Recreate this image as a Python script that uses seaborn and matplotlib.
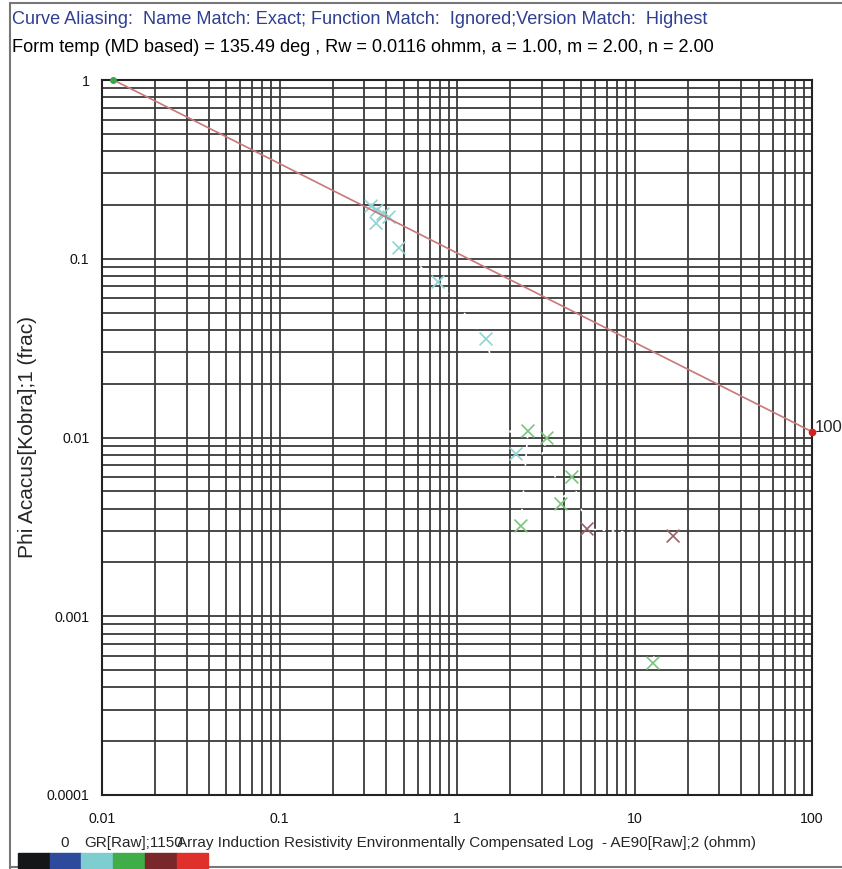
import matplotlib
matplotlib.use("Agg")
import matplotlib.pyplot as plt
import seaborn as sns
import numpy as np
import pandas as pd
from matplotlib.lines import Line2D
from matplotlib.patches import Rectangle

# ---- data ----
res_ohmm = [0.328, 0.354, 0.383, 0.350, 0.414, 0.471, 0.782, 1.457, 2.15,
            2.51, 2.29, 3.21, 3.85, 4.44, 5.40, 16.5, 12.7]
phi_frac = [0.197, 0.187, 0.178, 0.158, 0.171, 0.115, 0.0741, 0.0356, 0.00809,
            0.01087, 0.0032, 0.00993, 0.00425, 0.00601, 0.00308, 0.00281, 0.000547]
gr_class = ["cyan", "cyan", "cyan", "cyan", "cyan", "cyan", "cyan", "cyan", "cyan",
            "green", "green", "green", "green", "green", "maroon", "maroon", "green"]
rw = 0.0116
a_coef, m_exp = 1.00, 2.00
line_res = [0.0116, 100.0]
x_ticks = [0.01, 0.1, 1, 10, 100]
x_ticklabels = ["0.01", "0.1", "1", "10", "100"]
y_ticks = [0.0001, 0.001, 0.01, 0.1, 1]
y_ticklabels = ["0.0001", "0.001", "0.01", "0.1", "1"]
swatch_colors = ["#151618", "#2e4a9c", "#7ecdd0", "#3fae48", "#7a272b", "#e0302c"]

palette = {"cyan": "#8fd3d3", "green": "#7cc47c", "maroon": "#9a6068"}

df = pd.DataFrame({"res": res_ohmm, "phi": phi_frac, "gr": gr_class})

sns.set_style("white")
plt.rcParams["font.family"] = ["Liberation Sans", "DejaVu Sans"]

W, H = 842, 869
fig = plt.figure(figsize=(W / 100, H / 100), dpi=100)
ax = fig.add_axes([102 / W, 1 - 795 / H, (812 - 102) / W, (795 - 80) / H])
ax.set_xscale("log")
ax.set_yscale("log")
ax.set_xlim(0.01, 100)
ax.set_ylim(0.0001, 1)

ax.grid(True, which="both", color="#3a3a3a", linewidth=1.3)
ax.set_axisbelow(True)

# trajectory (white dotted)
ax.plot(df["res"], df["phi"], color="white", linestyle=(0, (1.5, 4)), linewidth=1.2, zorder=3)

sns.scatterplot(data=df, x="res", y="phi", hue="gr", palette=palette, marker="x",
                s=85, linewidth=1.2, legend=False, ax=ax, zorder=4)

# Archie Rw line
line_phi = [(a_coef * rw / r) ** (1 / m_exp) for r in line_res]
ax.plot(line_res, line_phi, color="#c97878", linewidth=1.2, zorder=5, clip_on=False)
ax.plot([line_res[0]], [line_phi[0]], "o", color="#3aa84a", markersize=4, zorder=6, clip_on=False)
ax.plot([line_res[1]], [line_phi[1]], "o", color="#d42020", markersize=4.5, zorder=6, clip_on=False)
ax.text(line_res[1] * 1.04, line_phi[1] * 1.06, "100%", fontsize=12, ha="left", va="center",
        clip_on=False)

ax.set_xticks(x_ticks)
ax.set_xticklabels(x_ticklabels)
ax.set_yticks(y_ticks)
ax.set_yticklabels(y_ticklabels)
ax.tick_params(which="both", length=0, labelsize=10.2, colors="#111111", pad=12)
ax.tick_params(axis="y", pad=9)
ax.minorticks_on()
ax.tick_params(which="minor", length=0, labelleft=False, labelbottom=False)
ax.set_xlabel("")
ax.set_ylabel("Phi Acacus[Kobra];1 (frac)", fontsize=15)
ax.yaxis.set_label_coords(-0.092, 0.5)
for s in ax.spines.values():
    s.set_color("#222222")
    s.set_linewidth(1.5)

# titles
fig.text(12 / W, 1 - 19 / H, "Curve Aliasing:  Name Match: Exact; Function Match:  Ignored;Version Match:  Highest",
         color="#2f3f91", fontsize=13.1, ha="left", va="center")
fig.text(12 / W, 1 - 47 / H, "Form temp (MD based) = 135.49 deg , Rw = 0.0116 ohmm, a = 1.00, m = 2.00, n = 2.00",
         color="black", fontsize=13.1, ha="left", va="center")

# bottom legend text
fig.text(60 / W, 1 - 843 / H, "0", fontsize=11, ha="left", va="center")
fig.text(84 / W, 1 - 843 / H, "GR[Raw];1150", fontsize=11, ha="left", va="center")
fig.text(177 / W, 1 - 843 / H,
         "Array Induction Resistivity Environmentally Compensated Log  - AE90[Raw];2 (ohmm)",
         fontsize=11, ha="left", va="center")

sw_x0, sw_w = 18, 31.7
for i, c in enumerate(swatch_colors):
    fig.patches.append(Rectangle(((sw_x0 + i * sw_w) / W, 1 - 868 / H), sw_w / W, 15 / H,
                                 transform=fig.transFigure, color=c, zorder=2))

# figure frame
fig.add_artist(Line2D([10 / W, 10 / W], [0, 1 - 3 / H], transform=fig.transFigure, color="#777777", lw=1.5))
fig.add_artist(Line2D([10 / W, 1], [1 - 3 / H, 1 - 3 / H], transform=fig.transFigure, color="#777777", lw=1.5))
fig.add_artist(Line2D([10 / W, 1], [1 - 867 / H, 1 - 867 / H], transform=fig.transFigure, color="#777777", lw=1.5))

fig.savefig("out.png", dpi=100, facecolor="white")
